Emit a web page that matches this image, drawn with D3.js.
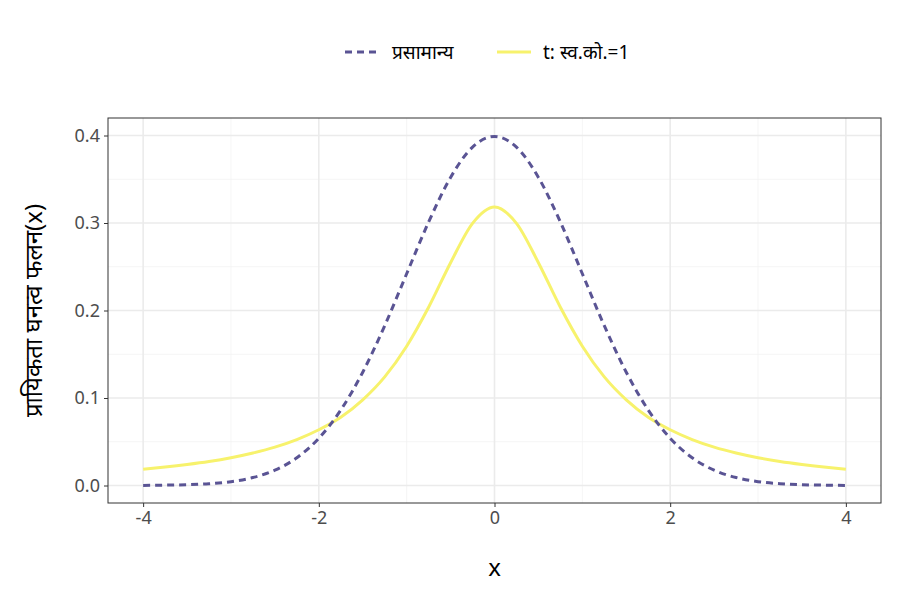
<!DOCTYPE html>
<html><head><meta charset="utf-8">
<script src="https://cdn.jsdelivr.net/npm/d3@7"></script>
<style>body{margin:0;background:#fff}text{font-family:"Noto Sans","Liberation Sans",sans-serif}</style>
</head><body><svg id="c" width="900" height="600"></svg>
<script>
const xs = [-4,-3.75,-3.5,-3.25,-3,-2.75,-2.5,-2.25,-2,-1.75,-1.5,-1.25,-1,-0.75,-0.5,-0.25,0,0.25,0.5,0.75,1,1.25,1.5,1.75,2,2.25,2.5,2.75,3,3.25,3.5,3.75,4];
const normalHalf = [0.0001,0.0004,0.0009,0.0020,0.0044,0.0091,0.0175,0.0317,0.0540,0.0863,0.1295,0.1826,0.2420,0.3011,0.3521,0.3867,0.3989];
const tHalf = [0.0187,0.0212,0.0241,0.0275,0.0318,0.0372,0.0439,0.0525,0.0637,0.0780,0.0979,0.1241,0.1592,0.2037,0.2546,0.2996,0.3183];
const normalVals = normalHalf.concat(normalHalf.slice(0,-1).reverse());
const tVals = tHalf.concat(tHalf.slice(0,-1).reverse());
const xTicks = [-4,-2,0,2,4], xMinor=[-3,-1,1,3];
const yTicks = [0,0.1,0.2,0.3,0.4], yMinor=[0.05,0.15,0.25,0.35];
const legendLabels = ["प्रसामान्य","t: स्व.को.=1"];
const yTitle = "प्रायिकता घनत्व फलन(x)";

const svg = d3.select("#c");
const L=108,R=881,T=118,B=503;
const x = d3.scaleLinear().domain([-4.4,4.4]).range([L,R]);
const y = d3.scaleLinear().domain([-0.02,0.42]).range([B,T]);
const g = svg.append("g");
g.selectAll(".mx").data(xMinor).join("line").attr("x1",x).attr("x2",x).attr("y1",T).attr("y2",B).attr("stroke","#f2f2f2").attr("stroke-width",0.8);
g.selectAll(".my").data(yMinor).join("line").attr("y1",y).attr("y2",y).attr("x1",L).attr("x2",R).attr("stroke","#f2f2f2").attr("stroke-width",0.8);
g.selectAll(".gx").data(xTicks).join("line").attr("x1",x).attr("x2",x).attr("y1",T).attr("y2",B).attr("stroke","#ebebeb").attr("stroke-width",1.6);
g.selectAll(".gy").data(yTicks).join("line").attr("y1",y).attr("y2",y).attr("x1",L).attr("x2",R).attr("stroke","#ebebeb").attr("stroke-width",1.6);
const line = d3.line().x((d,i)=>x(xs[i])).y(d=>y(d)).curve(d3.curveMonotoneX);
g.append("path").attr("d",line(tVals)).attr("fill","none").attr("stroke","#f7f26c").attr("stroke-width",3);
g.append("path").attr("d",line(normalVals)).attr("fill","none").attr("stroke","#5a5494").attr("stroke-width",3).attr("stroke-dasharray","7,5");
g.append("rect").attr("x",L).attr("y",T).attr("width",R-L).attr("height",B-T).attr("fill","none").attr("stroke","#333").attr("stroke-width",1);
const xa = svg.append("g").attr("transform",`translate(0,${B})`).call(d3.axisBottom(x).tickValues(xTicks).tickSize(4).tickPadding(4).tickFormat(d=>String(d)));
const ya = svg.append("g").attr("transform",`translate(${L},0)`).call(d3.axisLeft(y).tickValues(yTicks).tickSize(4).tickPadding(4).tickFormat(d=>d.toFixed(1)));
[xa,ya].forEach(a=>{a.select(".domain").remove();a.selectAll("line").attr("stroke","#333");a.selectAll("text").attr("fill","#4d4d4d").style("font-size","18px");});
svg.append("text").attr("x",(L+R)/2).attr("y",576).attr("text-anchor","middle").style("font-size","24px").text("x");
svg.append("text").attr("transform",`translate(42,${(T+B)/2}) rotate(-90)`).attr("text-anchor","middle").style("font-size","24px").text(yTitle);
const lg = svg.append("g");
lg.append("line").attr("x1",345).attr("x2",380).attr("y1",52).attr("y2",52).attr("stroke","#5a5494").attr("stroke-width",3).attr("stroke-dasharray","7,5");
lg.append("text").attr("x",392).attr("y",59).style("font-size","19px").text(legendLabels[0]);
lg.append("line").attr("x1",497).attr("x2",531).attr("y1",52).attr("y2",52).attr("stroke","#f7f26c").attr("stroke-width",3);
lg.append("text").attr("x",543).attr("y",59).style("font-size","19px").text(legendLabels[1]);
</script></body></html>
